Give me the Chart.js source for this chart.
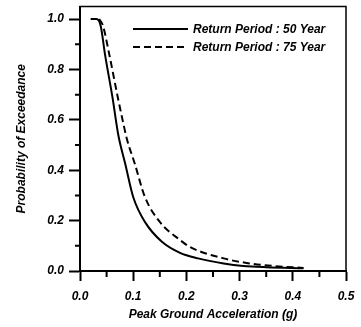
<!DOCTYPE html>
<html>
<head>
<meta charset="utf-8">
<script src="https://cdn.jsdelivr.net/npm/chart.js@4/dist/chart.umd.min.js"></script>
<style>
    html, body { margin: 0; padding: 0; background: #fff; }
</style>
</head>
<body>
<canvas id="pgaChart" width="361" height="327"></canvas>
<script>
// values
const pga50 = [0.020, 0.031, 0.039, 0.047, 0.061, 0.072, 0.085, 0.100, 0.122, 0.154, 0.188, 0.222, 0.270, 0.307, 0.350, 0.420];
const prob50 = [1.000, 1.000, 0.972, 0.860, 0.690, 0.540, 0.426, 0.294, 0.195, 0.116, 0.072, 0.050, 0.030, 0.020, 0.015, 0.011];
const pga75 = [0.036, 0.043, 0.055, 0.071, 0.080, 0.088, 0.103, 0.122, 0.150, 0.188, 0.207, 0.270, 0.313, 0.363, 0.420];
const prob75 = [1.000, 0.975, 0.860, 0.690, 0.600, 0.525, 0.426, 0.294, 0.195, 0.123, 0.095, 0.050, 0.032, 0.020, 0.012];
const seriesLabels = ['Return Period : 50 Year', 'Return Period : 75 Year'];
const xTickValues = [0, 0.05, 0.1, 0.15, 0.2, 0.25, 0.3, 0.35, 0.4, 0.45, 0.5];
const yTickValues = [0, 0.1, 0.2, 0.3, 0.4, 0.5, 0.6, 0.7, 0.8, 0.9, 1.0];
const xTitle = 'Peak Ground Acceleration (g)';
const yTitle = 'Probability of Exceedance';

const FONT = { family: '"Liberation Sans", Arial, sans-serif', size: 12, style: 'italic', weight: 'bold' };

function toPoints(xs, ys) {
    return xs.map((x, i) => ({ x: x, y: ys[i] }));
}

function isMajorX(v) {
    return Math.round(v * 100) % 10 === 0;
}

function isMajorY(v) {
    return Math.round(v * 10) % 2 === 0;
}

const tickColorX = ctx => (ctx.tick && !isMajorX(ctx.tick.value)) ? 'rgba(0,0,0,0)' : '#000';
const tickColorY = ctx => (ctx.tick && !isMajorY(ctx.tick.value)) ? 'rgba(0,0,0,0)' : '#000';

// short minor ticks, frame around the plot, legend inside the plot area
const framePlugin = {
    id: 'frame',
    afterDraw(chart) {
        const { ctx, chartArea } = chart;
        const xs = chart.scales.x;
        const ys = chart.scales.y;
        ctx.save();
        ctx.strokeStyle = '#000';
        ctx.lineWidth = 2;
        ctx.setLineDash([]);
        ctx.beginPath();
        xs.ticks.filter(t => !isMajorX(t.value)).forEach(t => {
            const px = xs.getPixelForValue(t.value);
            ctx.moveTo(px, chartArea.bottom);
            ctx.lineTo(px, chartArea.bottom + 6);
        });
        ys.ticks.filter(t => !isMajorY(t.value)).forEach(t => {
            const py = ys.getPixelForValue(t.value);
            ctx.moveTo(chartArea.left, py);
            ctx.lineTo(chartArea.left - 5, py);
        });
        ctx.stroke();

        ctx.lineWidth = 1.5;
        ctx.strokeRect(chartArea.left, chartArea.top, chartArea.right - chartArea.left, chartArea.bottom - chartArea.top);

        const x0 = chartArea.left + 53;
        const x1 = chartArea.left + 108;
        const rows = [chartArea.top + 22.5, chartArea.top + 40.5];
        chart.data.datasets.forEach((ds, i) => {
            ctx.beginPath();
            ctx.setLineDash(ds.borderDash || []);
            ctx.lineWidth = ds.borderWidth;
            ctx.strokeStyle = ds.borderColor;
            ctx.moveTo(x0, rows[i]);
            ctx.lineTo(x1, rows[i]);
            ctx.stroke();
            ctx.setLineDash([]);
            ctx.fillStyle = '#000';
            ctx.font = 'italic bold 12px "Liberation Sans", Arial, sans-serif';
            ctx.textBaseline = 'middle';
            ctx.textAlign = 'left';
            ctx.fillText(ds.label, x1 + 5, rows[i] + 1);
        });
        ctx.restore();
    }
};

const chart = new Chart(document.getElementById('pgaChart'), {
    type: 'line',
    data: {
        datasets: [
            {
                label: seriesLabels[0],
                data: toPoints(pga50, prob50),
                borderColor: '#000',
                borderWidth: 2,
                pointRadius: 0,
                fill: false,
                cubicInterpolationMode: 'monotone'
            },
            {
                label: seriesLabels[1],
                data: toPoints(pga75, prob75),
                borderColor: '#000',
                borderWidth: 2,
                borderDash: [7, 4],
                pointRadius: 0,
                fill: false,
                cubicInterpolationMode: 'monotone'
            }
        ]
    },
    options: {
        responsive: false,
        animation: false,
        layout: { padding: { top: 6.5, right: 15, left: 0, bottom: 0 } },
        plugins: {
            legend: { display: false },
            tooltip: { enabled: false }
        },
        scales: {
            x: {
                type: 'linear',
                min: 0,
                max: 0.5,
                afterBuildTicks: scale => {
                    scale.ticks = xTickValues.map(v => ({ value: v }));
                },
                afterFit: scale => {
                    scale.height = 56;
                    scale.paddingLeft = 0;
                    scale.paddingRight = 0;
                },
                border: { display: true, color: '#000', width: 2 },
                grid: {
                    drawOnChartArea: false,
                    drawTicks: true,
                    tickLength: 10,
                    tickWidth: 2,
                    tickColor: tickColorX
                },
                ticks: {
                    autoSkip: false,
                    maxRotation: 0,
                    padding: 8,
                    color: '#000',
                    font: FONT,
                    callback: v => isMajorX(v) ? v.toFixed(1) : ''
                },
                title: {
                    display: true,
                    text: xTitle,
                    color: '#000',
                    font: FONT,
                    padding: { top: 0, bottom: 5 }
                }
            },
            y: {
                type: 'linear',
                min: 0,
                max: 1.05,
                afterBuildTicks: scale => {
                    scale.ticks = yTickValues.map(v => ({ value: v }));
                },
                afterFit: scale => {
                    scale.width = 80;
                    scale.paddingTop = 0;
                    scale.paddingBottom = 0;
                },
                border: { display: true, color: '#000', width: 2 },
                grid: {
                    drawOnChartArea: false,
                    drawTicks: true,
                    tickLength: 11,
                    tickWidth: 2,
                    tickColor: tickColorY
                },
                ticks: {
                    autoSkip: false,
                    padding: 5,
                    color: '#000',
                    font: FONT,
                    callback: v => isMajorY(v) ? v.toFixed(1) : ''
                },
                title: {
                    display: true,
                    text: yTitle,
                    color: '#000',
                    font: FONT,
                    padding: { top: 14, bottom: 0 }
                }
            }
        }
    },
    plugins: [framePlugin]
});
</script>
</body>
</html>
